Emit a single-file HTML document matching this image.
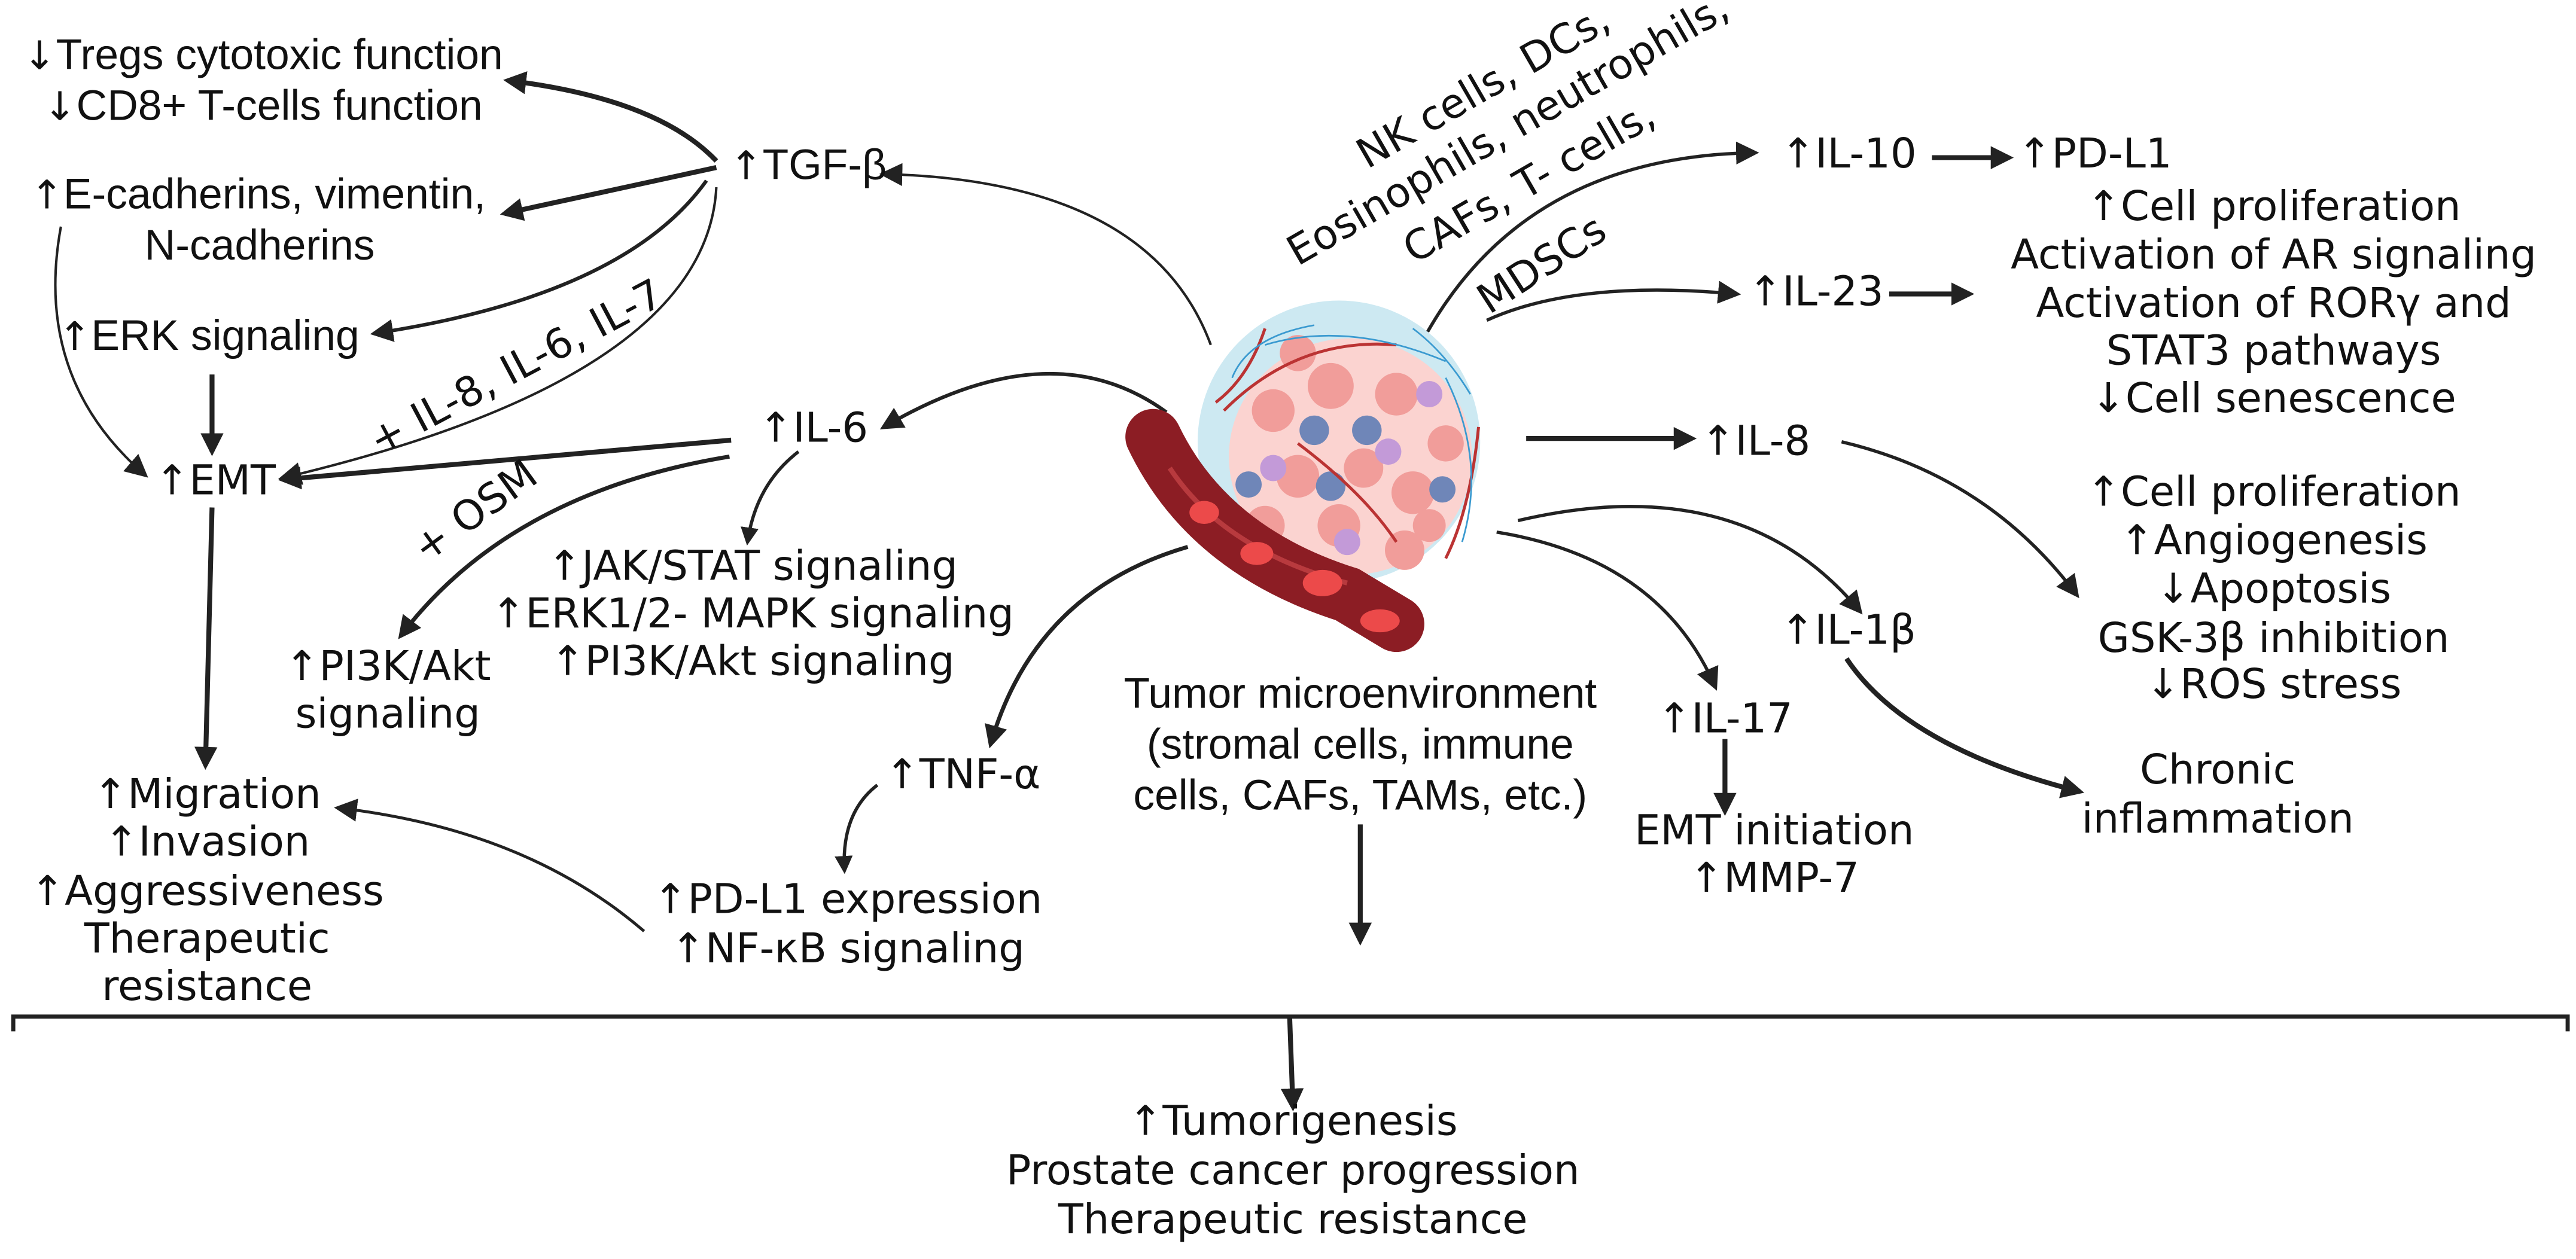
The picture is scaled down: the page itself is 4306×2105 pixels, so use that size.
<!DOCTYPE html>
<html><head><meta charset="utf-8"><style>
html,body{margin:0;padding:0;background:#fff;}
svg{display:block;}
text{font-family:"DejaVu Sans","Liberation Sans",sans-serif;font-size:25px;fill:#111;}
.r{font-family:"Liberation Sans","DejaVu Sans",sans-serif;font-size:26px;}
.ar{font-family:"DejaVu Sans",sans-serif;font-size:24px;}
</style></head><body>
<svg width="4306" height="2105" viewBox="0 0 1568 766.6" xmlns="http://www.w3.org/2000/svg">
<defs>
<marker id="a" viewBox="0 0 10 10" refX="8" refY="5" markerWidth="14" markerHeight="14" orient="auto" markerUnits="userSpaceOnUse"><path d="M0,0 L10,5 L0,10 z" fill="#222"/></marker>
<marker id="b" viewBox="0 0 10 10" refX="8" refY="5" markerWidth="11" markerHeight="11" orient="auto" markerUnits="userSpaceOnUse"><path d="M0,0 L10,5 L0,10 z" fill="#222"/></marker>
</defs>
<g fill="none" stroke="#222">
<path d="M436,98 Q400,60 309,49" stroke-width="3" marker-end="url(#a)"/>
<path d="M436,102 L307,130" stroke-width="3" marker-end="url(#a)"/>
<path d="M430,110 Q380,180 228,203" stroke-width="2.2" marker-end="url(#a)"/>
<path d="M436,114 Q430,230 172,291" stroke-width="1.5" marker-end="url(#a)"/>
<path d="M37,138 Q20,230 88,289" stroke-width="1.5" marker-end="url(#a)"/>
<path d="M129,228 L129,275" stroke-width="3" marker-end="url(#a)"/>
<path d="M129,309 L125,466" stroke-width="3" marker-end="url(#a)"/>
<path d="M445,268 L172,292" stroke-width="3" marker-end="url(#a)"/>
<path d="M444,278 Q310,300 244,387" stroke-width="2.5" marker-end="url(#a)"/>
<path d="M486,275 Q460,295 455,330" stroke-width="2" marker-end="url(#b)"/>
<path d="M392,567 Q320,505 206,492" stroke-width="1.8" marker-end="url(#a)"/>
<path d="M723,333 Q630,360 603,453" stroke-width="2.5" marker-end="url(#a)"/>
<path d="M534,478 Q512,495 514,530" stroke-width="2" marker-end="url(#b)"/>
<path d="M710,251 Q640,200 538,260" stroke-width="2.2" marker-end="url(#a)"/>
<path d="M737,210 Q700,110 538,106" stroke-width="1.5" marker-end="url(#a)"/>
<path d="M828,502 L828,573" stroke-width="3" marker-end="url(#a)"/>
<path d="M869,202 Q930,95 1068,93" stroke-width="2" marker-end="url(#a)"/>
<path d="M1176,96 L1223,96" stroke-width="3" marker-end="url(#a)"/>
<path d="M905,195 Q960,170 1057,179" stroke-width="2" marker-end="url(#a)"/>
<path d="M1150,179 L1199,179" stroke-width="3" marker-end="url(#a)"/>
<path d="M929,267 L1030,267" stroke-width="3" marker-end="url(#a)"/>
<path d="M1121,269 Q1210,290 1264,362" stroke-width="2" marker-end="url(#a)"/>
<path d="M924,317 Q1060,285 1132,372" stroke-width="2" marker-end="url(#a)"/>
<path d="M911,324 Q1010,340 1044,418" stroke-width="2" marker-end="url(#a)"/>
<path d="M1124,401 Q1160,455 1266,482" stroke-width="3" marker-end="url(#a)"/>
<path d="M1050,450 L1050,494" stroke-width="3" marker-end="url(#a)"/>
<path d="M8,628 L8,619 L1563,619 L1563,628" stroke-width="2.5"/>
<path d="M785,619 L787,674" stroke-width="3" marker-end="url(#a)"/>
</g>
<circle cx="815" cy="269" r="86" fill="#cde9f2"/>
<ellipse cx="822" cy="278" rx="74" ry="72" fill="#fbd3d0"/>
<g fill="#f19d9a">
<circle cx="775" cy="250" r="13"/><circle cx="810" cy="235" r="14"/><circle cx="850" cy="240" r="13"/><circle cx="790" cy="290" r="13"/><circle cx="830" cy="285" r="12"/><circle cx="860" cy="300" r="13"/><circle cx="770" cy="320" r="12"/><circle cx="815" cy="320" r="13"/><circle cx="855" cy="335" r="12"/><circle cx="880" cy="270" r="11"/><circle cx="790" cy="215" r="11"/><circle cx="870" cy="320" r="10"/>
</g>
<g fill="#6f86b8"><circle cx="800" cy="262" r="9"/><circle cx="832" cy="262" r="9"/><circle cx="760" cy="295" r="8"/><circle cx="810" cy="296" r="9"/><circle cx="878" cy="298" r="8"/></g>
<g fill="#c39ad8"><circle cx="845" cy="275" r="8"/><circle cx="775" cy="285" r="8"/><circle cx="820" cy="330" r="8"/><circle cx="870" cy="240" r="8"/></g>
<g fill="none" stroke="#b33" stroke-width="1.8"><path d="M745,250 Q790,205 850,210"/><path d="M880,340 Q895,310 900,260"/><path d="M790,270 Q830,300 850,330"/><path d="M770,200 Q760,230 740,245"/></g>
<g fill="none" stroke="#3a9ad0" stroke-width="1"><path d="M770,210 Q820,195 880,220"/><path d="M880,230 Q905,280 890,330"/><path d="M750,230 Q760,205 800,198"/><path d="M860,200 Q880,215 895,240"/></g>
<path d="M702,266 Q735,335 820,362 L850,380" fill="none" stroke="#8c1d24" stroke-width="34" stroke-linecap="round"/>
<path d="M712,285 Q745,335 820,355" fill="none" stroke="#b83a3e" stroke-width="3"/>
<g fill="#ec4a4a"><ellipse cx="733" cy="312" rx="9" ry="7"/><ellipse cx="765" cy="337" rx="10" ry="7"/><ellipse cx="805" cy="355" rx="12" ry="8"/><ellipse cx="840" cy="378" rx="12" ry="7"/></g>
<g text-anchor="middle">
<text class="r" x="160" y="42"><tspan class="ar">↓</tspan>Tregs cytotoxic function</text>
<text class="r" x="160" y="73"><tspan class="ar">↓</tspan>CD8+ T-cells function</text>
<text class="r" x="157" y="127"><tspan class="ar">↑</tspan>E-cadherins, vimentin,</text>
<text class="r" x="158" y="158">N-cadherins</text>
<text class="r" x="127" y="213"><tspan class="ar">↑</tspan>ERK signaling</text>
<text x="131" y="301">↑EMT</text>
<text x="495" y="269">↑IL-6</text>
<text x="458" y="353">↑JAK/STAT signaling</text>
<text x="458" y="382">↑ERK1/2- MAPK signaling</text>
<text x="458" y="411">↑PI3K/Akt signaling</text>
<text x="236" y="414">↑PI3K/Akt</text>
<text x="236" y="443">signaling</text>
<text x="126" y="492">↑Migration</text>
<text x="126" y="521">↑Invasion</text>
<text x="126" y="551">↑Aggressiveness</text>
<text x="126" y="580">Therapeutic</text>
<text x="126" y="609">resistance</text>
<text x="586" y="480">↑TNF-α</text>
<text x="516" y="556">↑PD-L1 expression</text>
<text x="516" y="586">↑NF-κB signaling</text>
<text class="r" x="828" y="431">Tumor microenvironment</text>
<text class="r" x="828" y="462">(stromal cells, immune</text>
<text class="r" x="828" y="493">cells, CAFs, TAMs, etc.)</text>
<text x="1384" y="134">↑Cell proliferation</text>
<text x="1384" y="163.5">Activation of AR signaling</text>
<text x="1384" y="193">Activation of RORγ and</text>
<text x="1384" y="222">STAT3 pathways</text>
<text x="1384" y="251">↓Cell senescence</text>
<text x="1384" y="308">↑Cell proliferation</text>
<text x="1384" y="337.5">↑Angiogenesis</text>
<text x="1384" y="367">↓Apoptosis</text>
<text x="1384" y="397">GSK-3β inhibition</text>
<text x="1384" y="425">↓ROS stress</text>
<text x="1125" y="392">↑IL-1β</text>
<text x="1050" y="446">↑IL-17</text>
<text x="1080" y="514">EMT initiation</text>
<text x="1080" y="543">↑MMP-7</text>
<text x="1350" y="477">Chronic</text>
<text x="1350" y="507">inflammation</text>
<text x="787" y="691">↑Tumorigenesis</text>
<text x="787" y="721">Prostate cancer progression</text>
<text x="787" y="751">Therapeutic resistance</text>
<text transform="translate(318,231) rotate(-28)">+ IL-8, IL-6, IL-7</text>
<text transform="translate(294,318) rotate(-36)">+ OSM</text>
<text transform="translate(943,168) rotate(-33)">MDSCs</text>
<text transform="translate(907,60) rotate(-30)">NK cells, DCs,</text>
<text transform="translate(922,86) rotate(-30)">Eosinophils, neutrophils,</text>
<text transform="translate(935,118) rotate(-30)">CAFs, T- cells,</text>
</g>
<g><text class="r" x="444" y="109"><tspan class="ar">↑</tspan>TGF-β</text>
<text x="1084" y="102">↑IL-10</text>
<text x="1228" y="102">↑PD-L1</text>
<text x="1064" y="186">↑IL-23</text>
<text x="1102" y="277" text-anchor="end">↑IL-8</text></g>
</svg>
</body></html>
